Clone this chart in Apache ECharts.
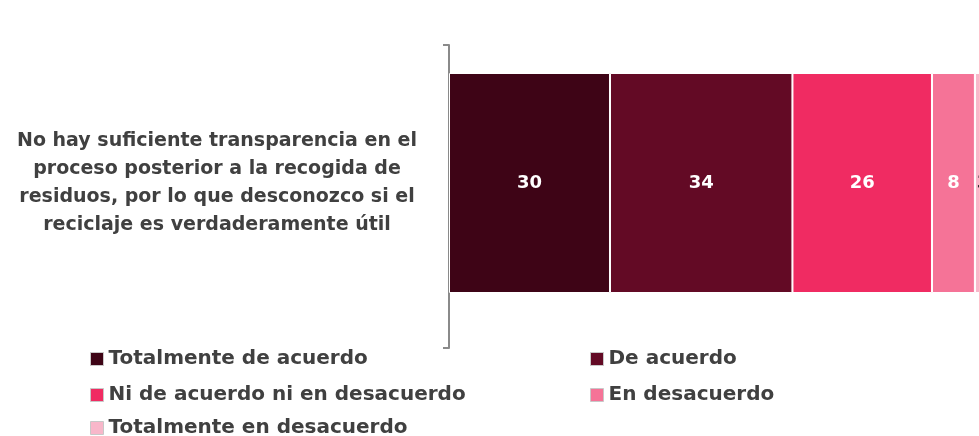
<!DOCTYPE html>
<html>
<head>
<meta charset="utf-8">
<script src="https://cdn.jsdelivr.net/npm/echarts@6/dist/echarts.min.js"></script>
<style>
  html, body { margin: 0; padding: 0; background: #ffffff; overflow: hidden; }
  #chart { width: 995px; height: 436px; }
</style>
</head>
<body>
<div id="chart"></div>
<script>
// Survey statement (single category)
const categories = [
  'No hay suficiente transparencia en el\nproceso posterior a la recogida de\nresiduos, por lo que desconozco si el\nreciclaje es verdaderamente útil'
];

// Response options and their shares (%)
const seriesNames = [
  'Totalmente de acuerdo',
  'De acuerdo',
  'Ni de acuerdo ni en desacuerdo',
  'En desacuerdo',
  'Totalmente en desacuerdo'
];
const totalmenteDeAcuerdo = [30];
const deAcuerdo = [34];
const niNi = [26];
const enDesacuerdo = [8];
const totalmenteEnDesacuerdo = [3];

const seriesValues = [totalmenteDeAcuerdo, deAcuerdo, niNi, enDesacuerdo, totalmenteEnDesacuerdo];
const seriesColors = ['#3e0416', '#630a25', '#f02b62', '#f57397', '#f8b7ca'];
const labelColors = ['#ffffff', '#ffffff', '#ffffff', '#ffffff', '#2a2a2a'];

const total = seriesValues.reduce((s, arr) => s + arr[0], 0);

const FONT = '"DejaVu Sans", sans-serif';
const TEXT = '#404040';
const AXIS = '#8a8a8a';

// Legend: two columns, items placed row by row
const legendSlots = [
  { left: 90, top: 349 },   // Totalmente de acuerdo
  { left: 590, top: 349 },  // De acuerdo
  { left: 90, top: 385 },   // Ni de acuerdo ni en desacuerdo
  { left: 590, top: 385 },  // En desacuerdo
  { left: 90, top: 418 }    // Totalmente en desacuerdo
];

const chart = echarts.init(document.getElementById('chart'), null, { renderer: 'canvas' });

chart.setOption({
  backgroundColor: '#ffffff',
  animation: false,
  grid: [
    // frame grid: only carries the vertical axis line with its end ticks
    { left: 449, top: 45, height: 303, width: 542, containLabel: false, outerBoundsMode: 'none' },
    // bar grid
    { left: 449, top: 33, height: 300, width: 542, containLabel: false, outerBoundsMode: 'none' }
  ],
  xAxis: [
    { type: 'value', gridIndex: 0, min: 0, max: total, show: false },
    { type: 'value', gridIndex: 1, min: 0, max: total, show: false }
  ],
  yAxis: [
    {
      type: 'category',
      gridIndex: 0,
      data: [''],
      axisLine: { show: true, lineStyle: { color: AXIS, width: 2 } },
      axisTick: { show: true, length: 6, lineStyle: { color: AXIS, width: 2 } },
      axisLabel: { show: false }
    },
    {
      type: 'category',
      gridIndex: 1,
      data: categories,
      axisLine: { show: false },
      axisTick: { show: false },
      axisLabel: {
        margin: 232,
        align: 'center',
        fontFamily: FONT,
        fontWeight: 'bold',
        fontSize: 19,
        lineHeight: 28,
        color: TEXT
      }
    }
  ],
  legend: seriesNames.map((name, i) => ({
    left: legendSlots[i].left,
    top: legendSlots[i].top,
    padding: 0,
    itemWidth: 13,
    itemHeight: 13,
    itemGap: 0,
    icon: 'rect',
    itemStyle: { borderColor: '#c8c8c8', borderWidth: 1 },
    textStyle: { fontFamily: FONT, fontWeight: 'bold', fontSize: 20, color: TEXT },
    data: [name]
  })),
  series: seriesNames.map((name, i) => ({
    name: name,
    type: 'bar',
    xAxisIndex: 1,
    yAxisIndex: 1,
    stack: 'total',
    barWidth: 220,
    data: seriesValues[i],
    itemStyle: { color: seriesColors[i], borderColor: '#ffffff', borderWidth: 1 },
    label: {
      show: true,
      position: 'inside',
      fontFamily: FONT,
      fontWeight: 'bold',
      fontSize: 18,
      color: labelColors[i]
    }
  }))
});
</script>
</body>
</html>
